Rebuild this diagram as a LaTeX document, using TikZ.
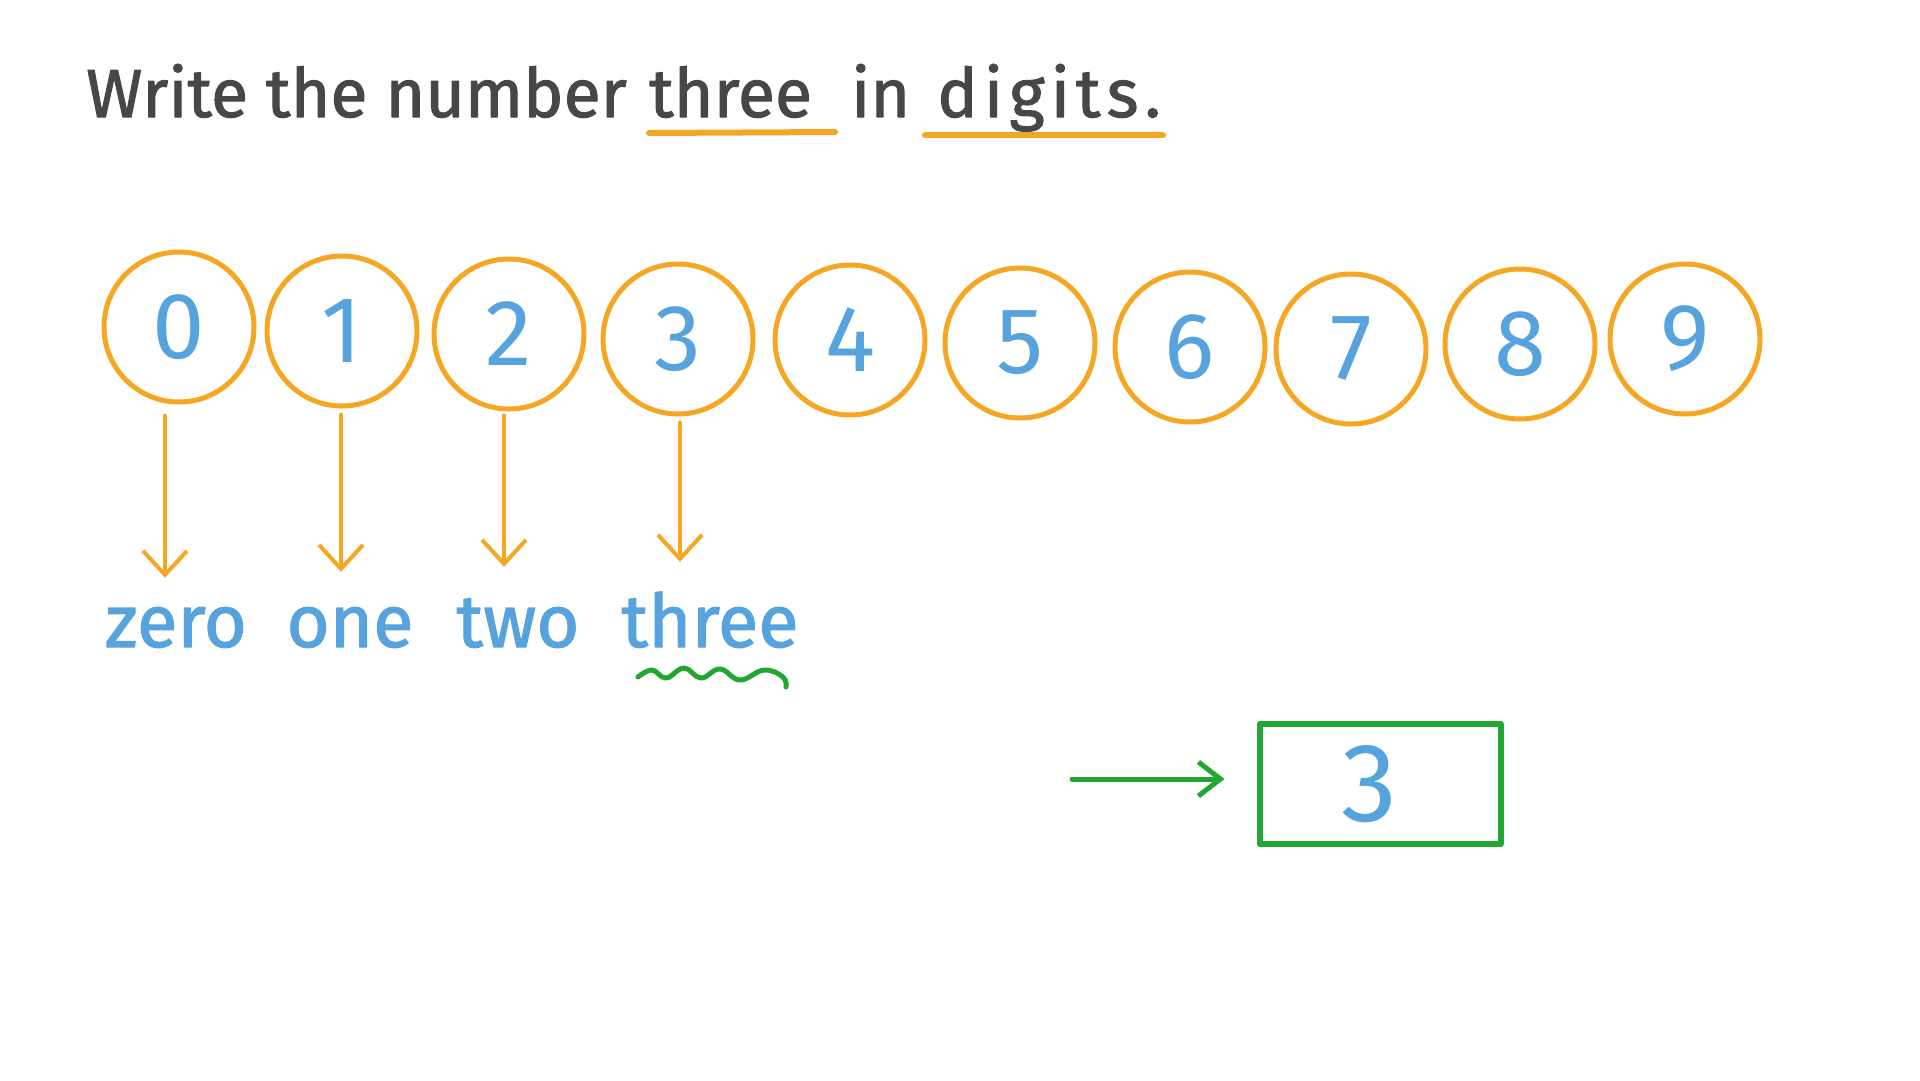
\documentclass[tikz,border=0pt]{standalone}
\usepackage{fontspec}
\setmainfont{Fira Sans}
\newfontfamily\hand[FakeBold=1.5]{Fira Sans}
\usetikzlibrary{arrows.meta,calc}
\definecolor{ink}{HTML}{474747}
\definecolor{orng}{HTML}{F5A623}
\definecolor{blu}{HTML}{57A3DE}
\definecolor{grn}{HTML}{22A832}
\begin{document}
\begin{tikzpicture}[x=1pt,y=-1pt, line cap=round, line join=round,
  ttl/.style={anchor=base west, inner sep=0pt, text=ink, font=\hand\fontsize{68}{68}\selectfont},
  ring/.style={circle, draw=orng, line width=5pt, minimum size=150pt, inner sep=0pt, text=blu, font=\fontsize{94}{94}\selectfont},
  word/.style={anchor=base, inner sep=0pt, text=blu, text height=55pt, font=\hand\fontsize{74}{74}\selectfont},
  uline/.style={draw=orng, line width=6pt},
  oarrow/.style={draw=orng, line width=4pt, -{Straight Barb[length=24pt,width=44pt]}},
  garrow/.style={draw=grn, line width=5pt, -{Straight Barb[length=22pt,width=34pt]}},
  ansbox/.style={rectangle, draw=grn, line width=6pt, minimum width=241pt, minimum height=120pt, inner sep=0pt, text=blu, font=\fontsize{112}{112}\selectfont}]
\useasboundingbox (0,0) rectangle (1920,1080);
% title
\node[ttl] (t1) at (86,117) {Write the number};
\node[ttl] (t2) at (649,117) {three};
\node[ttl] (t3) at (851,117) {in};
\node[ttl] (t4) at (937,117) {\addfontfeature{LetterSpace=9}digits.};
\draw[uline] ([shift={(0,16)}]t2.base west) -- ++(186,-1);
\draw[uline] ([shift={(-12,18)}]t4.base west) -- ++(238,0);
% digit circles
\node[ring] (c0) at (179,327) {0};
\node[ring] (c1) at (342,331) {1};
\node[ring] (c2) at (509,334) {2};
\node[ring] (c3) at (678,339) {3};
\node[ring] (c4) at (850,340) {4};
\node[ring] (c5) at (1020,343) {5};
\node[ring] (c6) at (1190,347) {6};
\node[ring] (c7) at (1351,349) {7};
\node[ring] (c8) at (1520,344) {8};
\node[ring] (c9) at (1685,339) {9};
% words
\node[word] (w0) at (176,647) {zero};
\node[word] (w1) at (350,647) {one};
\node[word] (w2) at (518,647) {two};
\node[word] (w3) at (710,647) {three};
% arrows
\draw[oarrow] ([shift={(-14,11)}]c0.south) -- ([shift={(-11,-14)}]w0.north);
\draw[oarrow] ([shift={(-1,6)}]c1.south) -- ([shift={(-9,-20)}]w1.north);
\draw[oarrow] ([shift={(-5,4)}]c2.south) -- ([shift={(-14,-25)}]w2.north);
\draw[oarrow] ([shift={(2,6)}]c3.south) -- ([shift={(-30,-30)}]w3.north);
% wiggle under three
\draw[grn, line width=5pt, shift={(w3.base)}] plot[smooth, tension=0.7] coordinates {(-72,30) (-58,23) (-44,31) (-26,21) (-9,31) (10,22) (30,33) (54,23) (73,30) (76,40)};
% answer box
\node[ansbox] (bx) at (1380,784) {\hspace*{-22pt}3};
\coordinate (gs) at (1072,779);
\draw[garrow] (gs) -- ([xshift=-32pt]gs -| bx.west);
\end{tikzpicture}
\end{document}
